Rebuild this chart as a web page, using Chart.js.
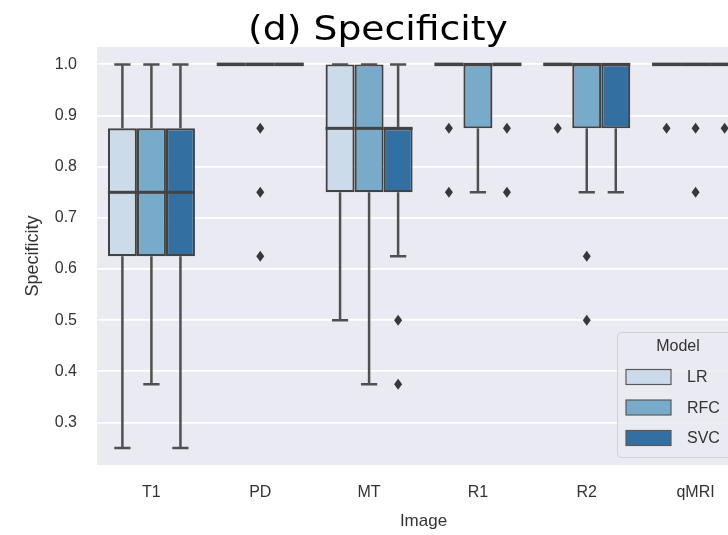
<!DOCTYPE html>
<html>
<head>
<meta charset="utf-8">
<script src="https://cdn.jsdelivr.net/npm/chart.js@4/dist/chart.umd.min.js"></script>
<style>
  html, body { margin: 0; padding: 0; background: #ffffff; overflow: hidden; width: 728px; height: 535px; }
  #wrap { position: relative; width: 780px; height: 535px; }
  #title { position: absolute; left: 0; top: 6px; width: 756px; text-align: center;
           font-family: "DejaVu Sans", Verdana, sans-serif; font-size: 34px; line-height: 44px; color: #000;
           transform: scaleX(1.11); transform-origin: 378px 0; }
  canvas { position: absolute; left: 0; top: 0; }
</style>
</head>
<body>
<div id="wrap">
  <canvas id="c" width="780" height="535"></canvas>
  <div id="title">(d) Specificity</div>
</div>
<script>
// ---- data ----
const categories = ['T1', 'PD', 'MT', 'R1', 'R2', 'qMRI'];
const models = ['LR', 'RFC', 'SVC'];
const yTicks = [0.3, 0.4, 0.5, 0.6, 0.7, 0.8, 0.9, 1.0];

// LR
const lrLow  = [0.25, 1.0, 0.5,   1.0, 1.0, 1.0];
const lrQ1   = [0.625, 1.0, 0.75, 1.0, 1.0, 1.0];
const lrMed  = [0.75, 1.0, 0.875, 1.0, 1.0, 1.0];
const lrQ3   = [0.875, 1.0, 1.0,  1.0, 1.0, 1.0];
const lrHigh = [1.0, 1.0, 1.0,    1.0, 1.0, 1.0];
const lrOut  = [[], [], [], [0.875, 0.75], [0.875], [0.875]];

// RFC
const rfcLow  = [0.375, 1.0, 0.375, 0.75, 0.75, 1.0];
const rfcQ1   = [0.625, 1.0, 0.75,  0.875, 0.875, 1.0];
const rfcMed  = [0.75, 1.0, 0.875,  1.0, 1.0, 1.0];
const rfcQ3   = [0.875, 1.0, 1.0,   1.0, 1.0, 1.0];
const rfcHigh = [1.0, 1.0, 1.0,     1.0, 1.0, 1.0];
const rfcOut  = [[], [0.875, 0.75, 0.625], [], [], [0.625, 0.5], [0.875, 0.75]];

// SVC
const svcLow  = [0.25, 1.0, 0.625, 1.0, 0.75, 1.0];
const svcQ1   = [0.625, 1.0, 0.75, 1.0, 0.875, 1.0];
const svcMed  = [0.75, 1.0, 0.875, 1.0, 1.0, 1.0];
const svcQ3   = [0.875, 1.0, 0.875, 1.0, 1.0, 1.0];
const svcHigh = [1.0, 1.0, 1.0,    1.0, 1.0, 1.0];
const svcOut  = [[], [], [0.5, 0.375], [0.875, 0.75], [], [0.875]];

// ---- styling ----
const colors = ['#cbdbea', '#78abc9', '#346fa2'];
const lineGray = '#434343';
const whiskerGray = '#505050';
const fontFam = '"Liberation Sans", Arial, sans-serif';
const stats = [
  { low: lrLow,  q1: lrQ1,  med: lrMed,  q3: lrQ3,  high: lrHigh,  out: lrOut },
  { low: rfcLow, q1: rfcQ1, med: rfcMed, q3: rfcQ3, high: rfcHigh, out: rfcOut },
  { low: svcLow, q1: svcQ1, med: svcMed, q3: svcQ3, high: svcHigh, out: svcOut }
];

const datasets = models.map((m, i) => ({
  label: m,
  data: stats[i].q1.map((q, j) => [q, stats[i].q3[j]]),
  backgroundColor: colors[i],
  borderColor: lineGray,
  borderWidth: 2.2,
  borderSkipped: false,
  categoryPercentage: 0.8,
  barPercentage: 1.0
}));

const bgPlugin = {
  id: 'bg',
  beforeDraw(chart) {
    const a = chart.chartArea, ctx = chart.ctx;
    ctx.save();
    ctx.fillStyle = '#eaeaf2';
    ctx.fillRect(a.left, a.top, a.right - a.left, a.bottom - a.top);
    ctx.restore();
  }
};

const boxPlugin = {
  id: 'boxparts',
  afterDatasetsDraw(chart) {
    const ctx = chart.ctx, y = chart.scales.y;
    ctx.save();
    chart.data.datasets.forEach((ds, i) => {
      const meta = chart.getDatasetMeta(i);
      const s = stats[i];
      meta.data.forEach((bar, j) => {
        const x = bar.x, w = bar.width;
        ctx.strokeStyle = whiskerGray;
        ctx.lineWidth = 2.5;
        ctx.lineCap = 'butt';
        // whiskers
        ctx.beginPath();
        ctx.moveTo(x, y.getPixelForValue(s.q1[j]));
        ctx.lineTo(x, y.getPixelForValue(s.low[j]));
        ctx.moveTo(x, y.getPixelForValue(s.q3[j]));
        ctx.lineTo(x, y.getPixelForValue(s.high[j]));
        ctx.stroke();
        // caps
        ctx.beginPath();
        [s.low[j], s.high[j]].forEach(v => {
          const py = y.getPixelForValue(v);
          ctx.moveTo(x - w * 0.28, py);
          ctx.lineTo(x + w * 0.28, py);
        });
        ctx.stroke();
        // median
        ctx.strokeStyle = lineGray;
        ctx.lineWidth = s.q1[j] === s.q3[j] ? 3.5 : 3;
        ctx.beginPath();
        const pm = y.getPixelForValue(s.med[j]);
        ctx.moveTo(x - w / 2, pm);
        ctx.lineTo(x + w / 2, pm);
        ctx.stroke();
        // outliers (thin diamonds)
        ctx.fillStyle = '#383838';
        s.out[j].forEach(v => {
          const py = y.getPixelForValue(v);
          ctx.beginPath();
          ctx.moveTo(x, py - 5.5);
          ctx.lineTo(x + 4, py);
          ctx.lineTo(x, py + 5.5);
          ctx.lineTo(x - 4, py);
          ctx.closePath();
          ctx.fill();
        });
      });
    });
    ctx.restore();
  }
};

const legendPlugin = {
  id: 'boxlegend',
  afterDraw(chart) {
    const ctx = chart.ctx, a = chart.chartArea;
    const bx = a.right - 133, by = a.bottom - 133, bw = 122, bh = 125;
    ctx.save();
    ctx.fillStyle = 'rgba(234,234,242,0.85)';
    ctx.strokeStyle = '#cfcfd6';
    ctx.lineWidth = 1;
    ctx.beginPath();
    ctx.roundRect(bx + 0.5, by + 0.5, bw, bh, 4);
    ctx.fill();
    ctx.stroke();
    ctx.font = '16px ' + fontFam;
    ctx.fillStyle = '#333333';
    ctx.textAlign = 'center';
    ctx.textBaseline = 'middle';
    ctx.fillText('Model', bx + bw / 2, by + 15);
    ctx.textAlign = 'left';
    chart.data.datasets.forEach((ds, i) => {
      const cy = by + 45 + i * 30.5;
      ctx.fillStyle = ds.backgroundColor;
      ctx.fillRect(bx + 9, cy - 7.5, 45, 15);
      ctx.strokeStyle = '#5a5a5a';
      ctx.lineWidth = 1.2;
      ctx.strokeRect(bx + 9, cy - 7.5, 45, 15);
      ctx.fillStyle = '#333333';
      ctx.fillText(ds.label, bx + 70, cy + 1);
    });
    ctx.restore();
  }
};

new Chart(document.getElementById('c'), {
  type: 'bar',
  data: { labels: categories, datasets: datasets },
  options: {
    responsive: false,
    animation: false,
    layout: { padding: { left: 0, top: 47, right: 30, bottom: 0 } },
    plugins: { legend: { display: false }, tooltip: { enabled: false }, title: { display: false } },
    scales: {
      x: {
        type: 'category',
        offset: true,
        grid: { display: false, drawTicks: false },
        border: { display: false },
        ticks: { color: '#333333', padding: 18, font: { family: fontFam, size: 16 } },
        title: { display: true, text: 'Image', color: '#333333', padding: { top: 0, bottom: 3 },
                 font: { family: fontFam, size: 17 } },
        afterFit(scale) { scale.height = 70; }
      },
      y: {
        min: 0.217,
        max: 1.034,
        grid: { color: '#ffffff', lineWidth: 1.8, drawTicks: false },
        border: { display: false },
        afterBuildTicks(scale) { scale.ticks = yTicks.map(v => ({ value: v })); },
        ticks: {
          color: '#333333', padding: 20,
          font: { family: fontFam, size: 16 },
          callback: v => Number(v).toFixed(1)
        },
        title: { display: true, text: 'Specificity', color: '#333333', padding: { top: 22, bottom: 0 },
                 font: { family: fontFam, size: 18 } },
        afterFit(scale) { scale.width = 97; }
      }
    }
  },
  plugins: [bgPlugin, boxPlugin, legendPlugin]
});
</script>
</body>
</html>
